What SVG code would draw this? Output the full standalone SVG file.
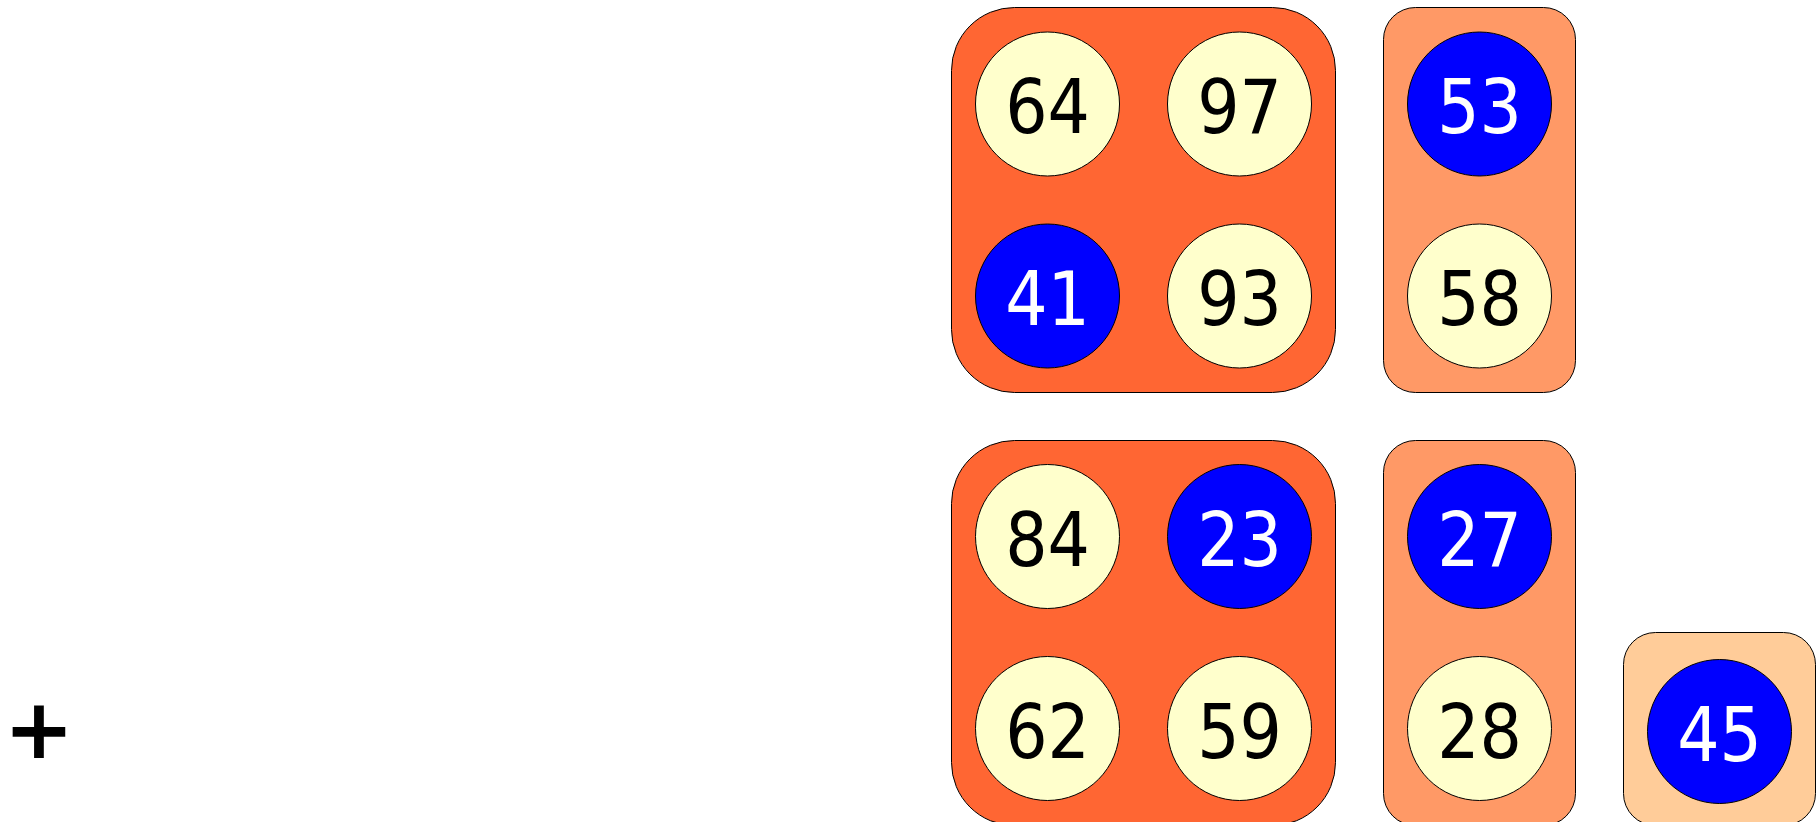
<svg xmlns="http://www.w3.org/2000/svg" width="1818" height="822" viewBox="0 0 1818 822">
<style>
.g4{fill:#FF6633;stroke:#000;stroke-width:1}
.g2{fill:#FF9966;stroke:#000;stroke-width:1}
.g1{fill:#FFCC99;stroke:#000;stroke-width:1}
.y{fill:#FFFFCC;stroke:#000;stroke-width:1}
.b{fill:#0000FF;stroke:#000;stroke-width:1}
text{font-family:"DejaVu Sans Condensed","DejaVu Sans",sans-serif;font-stretch:condensed;font-size:74px;text-anchor:middle}
.ty{fill:#000}
.tb{fill:#fff}
</style>
<rect width="1818" height="822" fill="#fff"/>
<g id="group1">
<rect class="g4" x="951.5" y="7.5" width="384" height="385" rx="63"/>
<g id="n64"><circle class="y" cx="1047.5" cy="104" r="72"/><text class="ty" x="1047.5" y="133">64</text></g>
<g id="n97"><circle class="y" cx="1239.5" cy="104" r="72"/><text class="ty" x="1239.5" y="133">97</text></g>
<g id="n41"><circle class="b" cx="1047.5" cy="296" r="72"/><text class="tb" x="1047.5" y="325">41</text></g>
<g id="n93"><circle class="y" cx="1239.5" cy="296" r="72"/><text class="ty" x="1239.5" y="325">93</text></g>
</g>
<g id="group2">
<rect class="g2" x="1383.5" y="7.5" width="192" height="385" rx="32"/>
<g id="n53"><circle class="b" cx="1479.5" cy="104" r="72"/><text class="tb" x="1479.5" y="133">53</text></g>
<g id="n58"><circle class="y" cx="1479.5" cy="296" r="72"/><text class="ty" x="1479.5" y="325">58</text></g>
</g>
<g id="group3">
<rect class="g4" x="951.5" y="440.5" width="384" height="385" rx="63"/>
<g id="n84"><circle class="y" cx="1047.5" cy="536.5" r="72"/><text class="ty" x="1047.5" y="565.5">84</text></g>
<g id="n23"><circle class="b" cx="1239.5" cy="536.5" r="72"/><text class="tb" x="1239.5" y="565.5">23</text></g>
<g id="n62"><circle class="y" cx="1047.5" cy="728.5" r="72"/><text class="ty" x="1047.5" y="757.5">62</text></g>
<g id="n59"><circle class="y" cx="1239.5" cy="728.5" r="72"/><text class="ty" x="1239.5" y="757.5">59</text></g>
</g>
<g id="group4">
<rect class="g2" x="1383.5" y="440.5" width="192" height="385" rx="32"/>
<g id="n27"><circle class="b" cx="1479.5" cy="536.5" r="72"/><text class="tb" x="1479.5" y="565.5">27</text></g>
<g id="n28"><circle class="y" cx="1479.5" cy="728.5" r="72"/><text class="ty" x="1479.5" y="757.5">28</text></g>
</g>
<g id="group5">
<rect class="g1" x="1623.5" y="632.5" width="192" height="193" rx="32"/>
<g id="n45"><circle class="b" cx="1719.5" cy="731.5" r="72"/><text class="tb" x="1719.5" y="760.5">45</text></g>
</g>
<g id="connectors"></g>
<g id="plus"><text x="39" y="758" style="font-family:'DejaVu Sans',sans-serif;font-stretch:normal;font-weight:bold;font-size:84px;text-anchor:middle">+</text></g>
</svg>
